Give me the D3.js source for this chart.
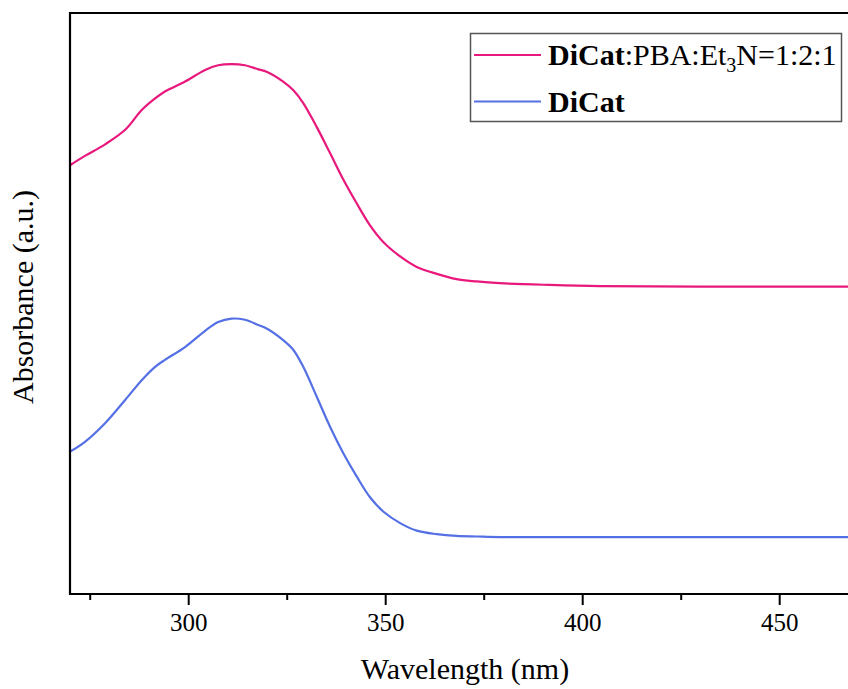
<!DOCTYPE html>
<html>
<head>
<meta charset="utf-8">
<script src="https://cdn.jsdelivr.net/npm/d3@7"></script>
<style>
body { margin: 0; background: #fff; }
svg { display: block; }
</style>
</head>
<body>
<div id="chart"></div>
<script>
var FONT = "Liberation Serif";

// wavelength grid (nm)
var wavelengths = [270, 273.8, 278.9, 284.0, 288.2, 291.6, 294.1, 299.2, 304.3, 307.6, 311.0, 314.4, 317.8,
    319.9, 324.1, 326.7, 329.2, 332.6, 336.0, 339.4, 342.8, 346.1, 349.5, 353.8, 358.0, 363.1,
    368.1, 373.2, 379.1, 391.8, 404.5, 430, 470];

// DiCat:PBA:Et3N=1:2:1 (offset upward in the figure)
var mixAbs = [0.738, 0.754, 0.774, 0.799, 0.833, 0.853, 0.865, 0.882, 0.902, 0.910, 0.912, 0.910, 0.903,
    0.899, 0.882, 0.867, 0.845, 0.804, 0.759, 0.713, 0.672, 0.635, 0.606, 0.581, 0.563, 0.551,
    0.542, 0.538, 0.535, 0.532, 0.530, 0.529, 0.529];

// DiCat alone
var dicatAbs = [0.245, 0.262, 0.294, 0.334, 0.368, 0.391, 0.403, 0.425, 0.453, 0.468, 0.474, 0.472, 0.463,
    0.457, 0.437, 0.420, 0.391, 0.340, 0.288, 0.242, 0.202, 0.167, 0.142, 0.122, 0.109, 0.103,
    0.100, 0.099, 0.098, 0.098, 0.098, 0.098, 0.098];

var majorTicks = [300, 350, 400, 450];
var minorTicks = [275, 325, 375, 425];

var W = 848, H = 689;
var margin = {top: 13, left: 70, bottom: 95};
var plotRight = 858; // right frame falls just outside the window
var bottom = H - margin.bottom; // 594

var svg = d3.select("#chart").append("svg")
    .attr("width", W)
    .attr("height", H)
    .attr("font-family", FONT);

var x = d3.scaleLinear().domain([270, 470]).range([margin.left, plotRight]);
var y = d3.scaleLinear().domain([0, 1]).range([bottom, margin.top]);

svg.append("defs").append("clipPath").attr("id", "plotclip")
    .append("rect")
    .attr("x", margin.left).attr("y", margin.top)
    .attr("width", plotRight - margin.left).attr("height", bottom - margin.top);

var series = [
    {name: "mix", values: mixAbs, color: "#e8187c"},
    {name: "dicat", values: dicatAbs, color: "#5470e4"}
];

var line = d3.line()
    .x(function(d){ return x(d[0]); })
    .y(function(d){ return y(d[1]); })
    .curve(d3.curveCatmullRom.alpha(0.5));

svg.append("g").attr("clip-path", "url(#plotclip)")
    .selectAll("path")
    .data(series)
    .enter().append("path")
    .attr("d", function(s){ return line(wavelengths.map(function(w, i){ return [w, s.values[i]]; })); })
    .attr("fill", "none")
    .attr("stroke", function(s){ return s.color; })
    .attr("stroke-width", 2.2);

// axes
var xMajor = d3.axisBottom(x).tickValues(majorTicks).tickSize(11).tickSizeOuter(0).tickPadding(8)
    .tickFormat(d3.format("d"));
var xMinor = d3.axisBottom(x).tickValues(minorTicks).tickSize(6).tickSizeOuter(0).tickFormat("");

var gMinor = svg.append("g").attr("transform", "translate(0," + bottom + ")").call(xMinor);
var gMajor = svg.append("g").attr("transform", "translate(0," + bottom + ")").call(xMajor);

[gMinor, gMajor].forEach(function(g){
    g.attr("font-family", FONT);
    g.select(".domain").remove();
    g.selectAll(".tick line").attr("stroke", "#000").attr("stroke-width", 2);
});
gMajor.attr("font-size", 25);
gMajor.selectAll(".tick text").attr("fill", "#000");

// frame: left, top, bottom
svg.append("path")
    .attr("d", "M" + plotRight + "," + margin.top + "H" + margin.left + "V" + bottom + "H" + plotRight)
    .attr("fill", "none")
    .attr("stroke", "#000")
    .attr("stroke-width", 2.2);

// axis titles
svg.append("text")
    .attr("x", 465)
    .attr("y", 679)
    .attr("text-anchor", "middle")
    .attr("font-family", FONT)
    .attr("font-size", 30)
    .text("Wavelength (nm)");

svg.append("text")
    .attr("transform", "translate(33,297) rotate(-90)")
    .attr("text-anchor", "middle")
    .attr("font-family", FONT)
    .attr("font-size", 30)
    .text("Absorbance (a.u.)");

// legend
var legend = svg.append("g").attr("font-family", FONT).attr("font-size", 30);
legend.append("rect")
    .attr("x", 470.5).attr("y", 33.5)
    .attr("width", 371).attr("height", 88)
    .attr("fill", "#fff")
    .attr("stroke", "#555")
    .attr("stroke-width", 1.5);

var legendRows = [{y: 55, color: series[0].color}, {y: 101.5, color: series[1].color}];
legend.selectAll("line")
    .data(legendRows)
    .enter().append("line")
    .attr("x1", 474).attr("x2", 541)
    .attr("y1", function(d){ return d.y; })
    .attr("y2", function(d){ return d.y; })
    .attr("stroke", function(d){ return d.color; })
    .attr("stroke-width", 2.2);

var t1 = legend.append("text").attr("x", 548).attr("y", 65);
t1.append("tspan").attr("font-weight", "bold").text("DiCat");
t1.append("tspan").text(":PBA:Et");
t1.append("tspan").attr("dy", 7).attr("font-size", 20).text("3");
t1.append("tspan").attr("dy", -7).text("N=1:2:1");

legend.append("text").attr("x", 548).attr("y", 111.5)
    .attr("font-weight", "bold")
    .text("DiCat");
</script>
</body>
</html>
